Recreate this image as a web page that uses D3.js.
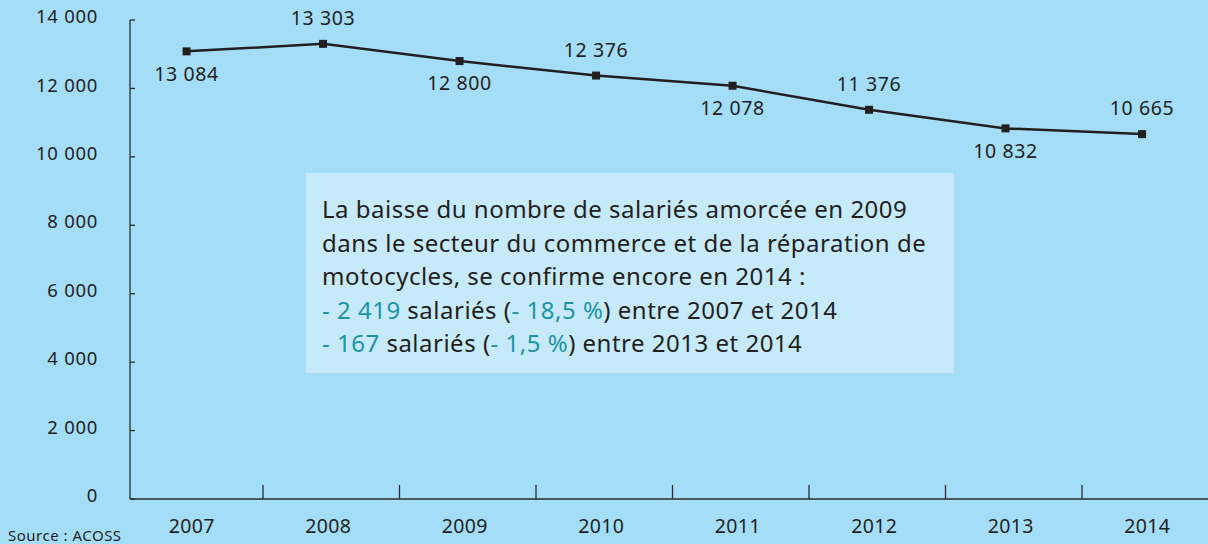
<!DOCTYPE html>
<html>
<head>
<meta charset="utf-8">
<script src="https://cdn.jsdelivr.net/npm/d3@7"></script>
<style>
  body { margin: 0; background: #a4ddf7; }
  svg { display: block; font-family: 'Noto Sans', 'Open Sans', sans-serif; }
</style>
</head>
<body>
<svg id="chart" width="1208" height="544"></svg>
<script>
const years = ['2007', '2008', '2009', '2010', '2011', '2012', '2013', '2014']
const salaries = [13084, 13303, 12800, 12376, 12078, 11376, 10832, 10665]
// position de l'étiquette : au-dessus ou en dessous du point
const labelPos = ['below', 'above', 'below', 'above', 'below', 'above', 'below', 'above']
const yTicks = [0, 2000, 4000, 6000, 8000, 10000, 12000, 14000]

const fmt = v => d3.format(',')(v).replace(/,/g, ' ')

const svg = d3.select('#chart')
const width = 1208
const height = 544

svg.append('rect').attr('width', width).attr('height', height).attr('fill', '#a4ddf7')

const x = d3.scaleBand().domain(years).range([126.5, 1218.5])
const y = d3.scaleLinear().domain([0, 14000]).range([499, 20])
const px = d => x(d) + x.bandwidth() * 0.44

// axe vertical
svg.append('line')
  .attr('x1', 130).attr('x2', 130)
  .attr('y1', y(14000)).attr('y2', y(0))
  .attr('stroke', '#2b2b2b').attr('stroke-width', 1.3)

svg.selectAll('.ytick')
  .data(yTicks)
  .enter()
  .append('line')
  .attr('x1', 130).attr('x2', 135)
  .attr('y1', d => y(d)).attr('y2', d => y(d))
  .attr('stroke', '#2b2b2b').attr('stroke-width', 1.3)

svg.selectAll('.ylabel')
  .data(yTicks)
  .enter()
  .append('text')
  .attr('x', 98)
  .attr('y', d => y(d))
  .attr('dy', '-0.1em')
  .attr('text-anchor', 'end')
  .attr('dominant-baseline', 'middle')
  .style('font-size', '18.5px')
  .style('letter-spacing', '0.7px')
  .style('fill', '#231f20')
  .text(d => fmt(d))

// axe horizontal
svg.append('line')
  .attr('x1', 130).attr('x2', width)
  .attr('y1', y(0)).attr('y2', y(0))
  .attr('stroke', '#2b2b2b').attr('stroke-width', 1.3)

svg.selectAll('.xtick')
  .data(years.slice(1))
  .enter()
  .append('line')
  .attr('x1', d => x(d)).attr('x2', d => x(d))
  .attr('y1', y(0) - 14).attr('y2', y(0))
  .attr('stroke', '#2b2b2b').attr('stroke-width', 1.3)

svg.selectAll('.xlabel')
  .data(years)
  .enter()
  .append('text')
  .attr('x', d => x(d) + x.bandwidth() / 2 - 3)
  .attr('y', 528)
  .attr('text-anchor', 'middle')
  .attr('dominant-baseline', 'middle')
  .style('font-size', '19.5px')
  .style('letter-spacing', '0.3px')
  .style('fill', '#231f20')
  .text(d => d)

svg.append('text')
  .attr('x', 8).attr('y', 537)
  .attr('dominant-baseline', 'middle')
  .style('font-size', '15px')
  .style('letter-spacing', '0.5px')
  .style('fill', '#231f20')
  .text('Source : ACOSS')

// encadré
const box = svg.append('g')
box.append('rect')
  .attr('x', 306).attr('y', 173)
  .attr('width', 648).attr('height', 200)
  .attr('fill', '#c6eaf9')

const teal = '#1b93a5'
const dark = '#231f20'
const lines = [
  [['La baisse du nombre de salariés amorcée en 2009', dark]],
  [['dans le secteur du commerce et de la réparation de', dark]],
  [['motocycles, se confirme encore en 2014 :', dark]],
  [['- 2 419', teal], [' salariés (', dark], ['- 18,5 %', teal], [') entre 2007 et 2014', dark]],
  [['- 167', teal], [' salariés (', dark], ['- 1,5 %', teal], [') entre 2013 et 2014', dark]]
]
lines.forEach((parts, i) => {
  const t = box.append('text')
    .attr('x', 322)
    .attr('y', 212 + i * 33.6)
    .attr('dominant-baseline', 'middle')
    .style('font-size', '24px')
    .style('letter-spacing', '0.5px')
  parts.forEach(p => {
    t.append('tspan').style('fill', p[1]).text(p[0])
  })
})

// courbe
const line = d3.line()
  .x((d, i) => px(years[i]))
  .y(d => y(d))

svg.append('path')
  .datum(salaries)
  .attr('d', line)
  .attr('fill', 'none')
  .attr('stroke', '#231f20')
  .attr('stroke-width', 2.5)

svg.selectAll('.pt')
  .data(salaries)
  .enter()
  .append('rect')
  .attr('x', (d, i) => px(years[i]) - 4)
  .attr('y', d => y(d) - 4)
  .attr('width', 8).attr('height', 8)
  .attr('fill', '#231f20')

svg.selectAll('.val')
  .data(salaries)
  .enter()
  .append('text')
  .attr('x', (d, i) => px(years[i]))
  .attr('y', (d, i) => y(d) + (labelPos[i] === 'above' ? -24 : 24))
  .attr('text-anchor', 'middle')
  .attr('dominant-baseline', 'middle')
  .style('font-size', '19.5px')
  .style('letter-spacing', '0.6px')
  .style('fill', '#231f20')
  .text(d => fmt(d))
</script>
</body>
</html>
